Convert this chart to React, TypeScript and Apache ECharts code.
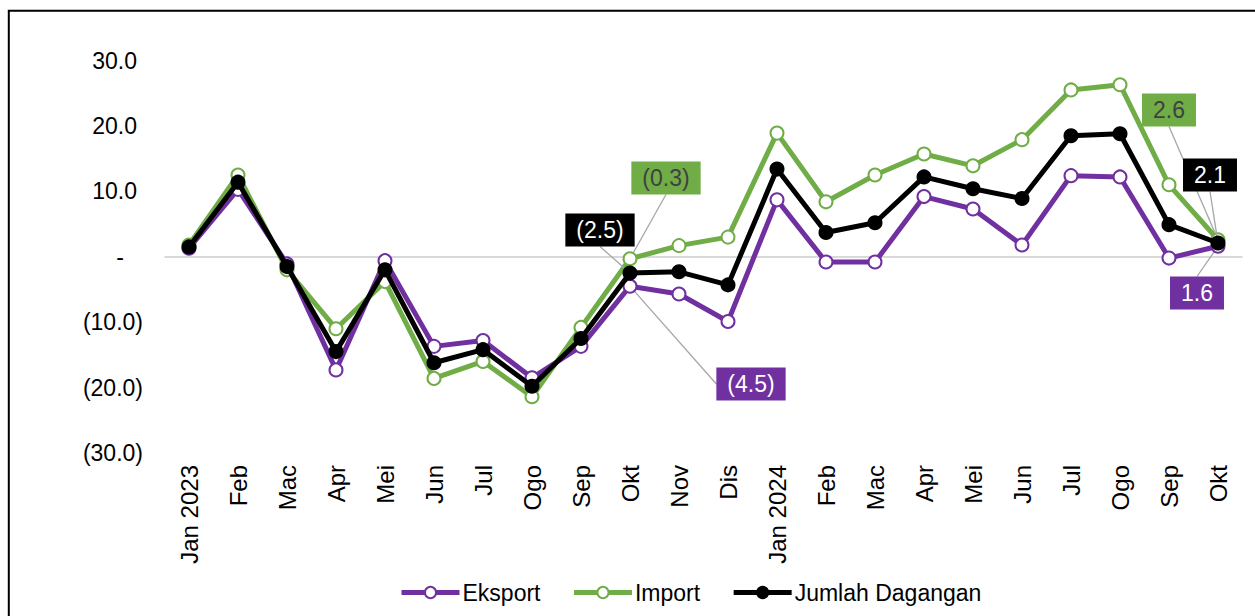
import React, { useEffect, useRef } from "react";
import * as echarts from "echarts";

const categories = ["Jan 2023", "Feb", "Mac", "Apr", "Mei", "Jun", "Jul", "Ogo", "Sep", "Okt", "Nov", "Dis", "Jan 2024", "Feb", "Mac", "Apr", "Mei", "Jun", "Jul", "Ogo", "Sep", "Okt"];
const eksport = [1.3, 10.3, -1.1, -17.3, -0.6, -13.7, -12.8, -18.5, -13.7, -4.5, -5.7, -9.9, 8.7, -0.8, -0.8, 9.2, 7.3, 1.8, 12.4, 12.2, -0.2, 1.6];
const importData = [1.8, 12.5, -2.0, -11.0, -3.8, -18.6, -16.0, -21.4, -10.8, -0.3, 1.7, 3.0, 18.9, 8.4, 12.5, 15.7, 13.9, 17.9, 25.5, 26.3, 11.0, 2.6];
const jumlah = [1.5, 11.4, -1.5, -14.5, -2.0, -16.2, -14.2, -19.8, -12.5, -2.5, -2.3, -4.3, 13.4, 3.7, 5.2, 12.2, 10.4, 8.9, 18.5, 18.8, 4.9, 2.1];
const seriesNames = ["Eksport", "Import", "Jumlah Dagangan"];
const labelledIndices = [9, 21];

const FONT = "'Liberation Sans', Arial, sans-serif";
const COLORS = ["#7030A0", "#70AD47", "#000000"];
const LABEL_TEXT = ["#FFFFFF", "#404040", "#FFFFFF"];
// label box centres (pixels) per series / data index
const LABEL_POS: Record<string, [number, number]> = {
  "0-9": [751, 384],
  "1-9": [666, 178],
  "2-9": [600, 230],
  "0-21": [1197, 293],
  "1-21": [1169, 110],
  "2-21": [1210, 175],
};

function acct(v: number): string {
  if (v === 0) return "-";
  const s = Math.abs(v).toFixed(1);
  return v < 0 ? "(" + s + ")" : s;
}

function buildSeries(idx: number, values: number[]) {
  const hollow = idx < 2;
  return {
    name: seriesNames[idx],
    type: "line",
    data: values.map((v, i) =>
      labelledIndices.includes(i)
        ? {
            value: v,
            label: {
              show: true,
              formatter: (p: any) => acct(p.value),
              backgroundColor: COLORS[idx],
              color: LABEL_TEXT[idx],
              fontFamily: FONT,
              fontSize: 23,
              padding: [6, 11, 4, 11],
              align: "center",
              verticalAlign: "middle",
            },
          }
        : v
    ),
    symbol: "circle",
    symbolSize: 13,
    showAllSymbol: true,
    lineStyle: { color: COLORS[idx], width: 5 },
    itemStyle: {
      color: hollow ? "#FFFFFF" : COLORS[idx],
      borderColor: COLORS[idx],
      borderWidth: 2,
    },
    label: { show: false },
    labelLine: { show: true, lineStyle: { color: "#A6A6A6", width: 1.3 } },
    labelLayout: (params: any) => {
      const key = params.seriesIndex + "-" + params.dataIndex;
      const pos = LABEL_POS[key];
      if (!pos) return {};
      return { x: pos[0], y: pos[1], align: "center", verticalAlign: "middle" };
    },
    emphasis: { disabled: true },
    z: 2 + idx,
  };
}

export default function App() {
  const ref = useRef<HTMLDivElement>(null);
  useEffect(() => {
    document.body.style.margin = "0";
    document.body.style.overflow = "hidden";
    const chart = echarts.init(ref.current!, undefined, { renderer: "svg" });
    chart.setOption({
      animation: false,
      backgroundColor: "#FFFFFF",
      textStyle: { fontFamily: FONT },
      grid: { left: 164.5, right: 12.5, top: 60.5, height: 392.5, containLabel: false },
      xAxis: {
        type: "category",
        data: categories,
        boundaryGap: true,
        axisLine: { show: false },
        axisTick: { show: false },
        axisLabel: {
          rotate: 90,
          interval: 0,
          margin: 12,
          fontSize: 24,
          color: "#000000",
          fontFamily: FONT,
        },
      },
      yAxis: {
        type: "value",
        min: -30,
        max: 30,
        interval: 10,
        axisLine: { show: false },
        axisTick: { show: false },
        splitLine: {
          show: true,
          lineStyle: {
            color: ["transparent", "transparent", "transparent", "#D9D9D9", "transparent", "transparent", "transparent"],
            width: 2,
          },
        },
        axisLabel: {
          margin: 21.5,
          fontSize: 23,
          color: "#000000",
          fontFamily: FONT,
          formatter: (v: number) => {
            if (v === 0) return "{z|-}";
            if (v < 0) return "{n|" + acct(v) + "}";
            return "{p|" + acct(v) + "}";
          },
          rich: {
            p: { fontSize: 23, fontFamily: FONT, color: "#000", padding: [0, 6, 0, 0] },
            n: { fontSize: 23, fontFamily: FONT, color: "#000" },
            z: { fontSize: 23, fontFamily: FONT, color: "#000", padding: [0, 19, 0, 0] },
          },
        },
      },
      legend: {
        data: seriesNames,
        left: 394,
        top: 576,
        itemWidth: 58,
        itemHeight: 14,
        itemGap: 31,
        lineStyle: { width: 5 },
        textStyle: { fontSize: 23, color: "#000000", fontFamily: FONT, padding: [0, 0, 0, -2] },
      },
      graphic: [
        {
          type: "rect",
          shape: { x: 8.8, y: 10.7, width: 1400, height: 800 },
          style: { fill: "none", stroke: "#000000", lineWidth: 2 },
          silent: true,
          z: 100,
        },
      ],
      series: [buildSeries(0, eksport), buildSeries(1, importData), buildSeries(2, jumlah)],
    });
    return () => chart.dispose();
  }, []);
  return <div ref={ref} style={{ position: "absolute", left: 0, top: 0, width: 1255, height: 616 }} />;
}
